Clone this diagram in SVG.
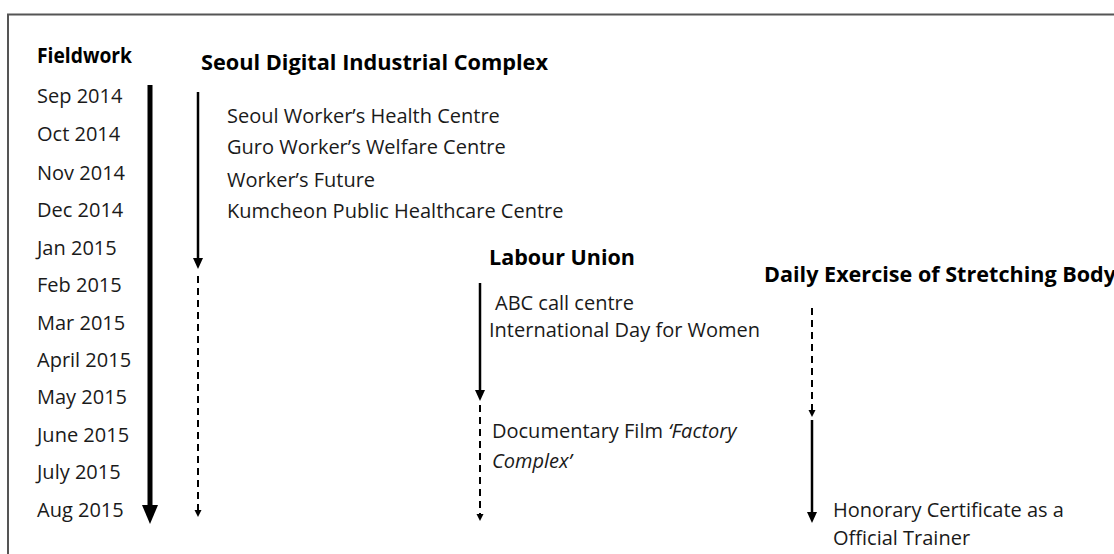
<svg xmlns="http://www.w3.org/2000/svg" width="1114" height="554" viewBox="0 0 1114 554">
<defs>
<style>
text{font-family:"Open Sans","Noto Sans",sans-serif;font-size:20px;fill:#1a1a1a}
.b{font-weight:bold;fill:#000;font-size:21px}
.i{font-style:italic}
.s{stroke:#000;stroke-width:2.5;fill:none}
.d{stroke:#000;stroke-width:2;fill:none;stroke-dasharray:7 5}
.h{fill:#000}
</style>
</defs>
<rect width="1114" height="554" fill="#fff"/>
<path d="M8,554 V14.5 H1114" fill="none" stroke="#555" stroke-width="2"/>
<g id="fieldwork">
<text class="b" x="37" y="63" textLength="95" lengthAdjust="spacingAndGlyphs">Fieldwork</text>
<text x="37" y="103">Sep 2014</text>
<text x="37" y="141">Oct 2014</text>
<text x="37" y="180">Nov 2014</text>
<text x="37" y="217">Dec 2014</text>
<text x="37" y="255">Jan 2015</text>
<text x="37" y="292">Feb 2015</text>
<text x="37" y="330">Mar 2015</text>
<text x="37" y="367">April 2015</text>
<text x="37" y="404">May 2015</text>
<text x="37" y="442">June 2015</text>
<text x="37" y="479">July 2015</text>
<text x="37" y="517">Aug 2015</text>
</g>
<g id="seoul-digital">
<text class="b" x="201" y="70" textLength="347" lengthAdjust="spacingAndGlyphs">Seoul Digital Industrial Complex</text>
<text x="227" y="123">Seoul Worker’s Health Centre</text>
<text x="227" y="154">Guro Worker’s Welfare Centre</text>
<text x="227" y="187">Worker’s Future</text>
<text x="227" y="218">Kumcheon Public Healthcare Centre</text>
</g>
<g id="labour-union">
<text class="b" x="489" y="265" textLength="146" lengthAdjust="spacingAndGlyphs">Labour Union</text>
<text x="495" y="310">ABC call centre</text>
<text x="489" y="337">International Day for Women</text>
<text x="492" y="438">Documentary Film <tspan class="i">‘Factory</tspan></text>
<text class="i" x="492" y="468">Complex’</text>
</g>
<g id="daily-exercise">
<text class="b" x="764" y="282" textLength="352" lengthAdjust="spacingAndGlyphs">Daily Exercise of Stretching Body</text>
<text x="833" y="517">Honorary Certificate as a</text>
<text x="833" y="545">Official Trainer</text>
</g>
<g id="connectors">
<line x1="150" y1="85" x2="150" y2="506" stroke="#000" stroke-width="5"/>
<polygon class="h" points="142,505 158,505 150,524"/>
<line class="s" x1="198" y1="92" x2="198" y2="260"/>
<polygon class="h" points="193,258 203,258 198,269"/>
<line class="d" x1="198" y1="276" x2="198" y2="512"/>
<polygon class="h" points="194.5,510 201.5,510 198,517"/>
<line class="s" x1="480" y1="283" x2="480" y2="392"/>
<polygon class="h" points="475,390 485,390 480,401"/>
<line class="d" x1="480" y1="405" x2="480" y2="515"/>
<polygon class="h" points="476.5,514 483.5,514 480,521"/>
<line class="d" x1="812" y1="308" x2="812" y2="411"/>
<polygon class="h" points="808.5,410 815.5,410 812,417"/>
<line class="s" x1="812" y1="420" x2="812" y2="513"/>
<polygon class="h" points="807,512 817,512 812,523"/>
</g>
</svg>
